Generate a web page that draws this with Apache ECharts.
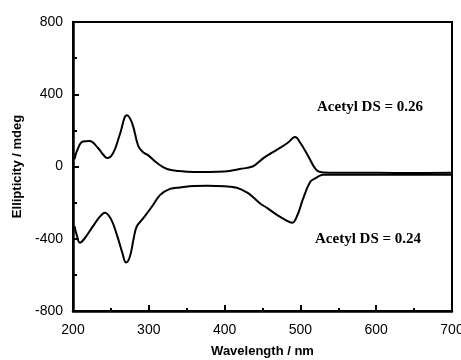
<!DOCTYPE html>
<html><head><meta charset="utf-8">
<script src="https://cdn.jsdelivr.net/npm/echarts@6/dist/echarts.min.js"></script>
<style>html,body{margin:0;padding:0;background:#fff}#c{width:461px;height:360px}</style>
</head><body><div id="c"></div>
<script>
// Acetyl DS = 0.26 (upper curve)
var wlUpper = [202,206,213,222,233,240,245,253,262,271,278,286,292,299,311,324,340,360,380,400,420,437,445,453,462,472,483,493,500,510,521,530,550,600,650,700];
var ellUpper = [40,95,138,141,102,65,47,75,180,284,240,115,80,63,19,-14,-25,-30,-30,-28,-14,0,25,52,75,100,130,163,130,60,-19,-33,-35,-35,-36,-35];
// Acetyl DS = 0.24 (lower curve)
var wlLower = [202,205,209,215,226,236,242,250,258,265,270,275,280,284,292,304,315,328,341,360,377,400,416,430,437,447,456,469,480,489,496,503,513,520,530,550,600,650,700];
var ellLower = [-330,-380,-422,-400,-333,-275,-256,-290,-380,-477,-532,-500,-400,-333,-290,-223,-157,-124,-116,-108,-107,-110,-118,-145,-168,-205,-229,-268,-295,-312,-270,-185,-85,-65,-45,-45,-46,-46,-46];
var seriesNames = ['Acetyl DS = 0.26','Acetyl DS = 0.24'];
var xTicks = [200,300,400,500,600,700];
var yTicks = [-800,-400,0,400,800];

function pairs(xs, ys){ return xs.map(function(x,i){return [x, ys[i]];}); }

var chart = echarts.init(document.getElementById('c'), null, {renderer:'canvas'});
var tickFont = {fontFamily:'Liberation Sans, Arial, sans-serif', fontSize:14, color:'#000'};
chart.setOption({
  animation:false,
  backgroundColor:'#fff',
  grid:{left:73, right:9, top:22, bottom:49, show:true, borderColor:'#000', borderWidth:2, containLabel:false, outerBoundsMode:'none'},
  xAxis:{type:'value', min:xTicks[0], max:xTicks[xTicks.length-1], interval:100,
    name:'Wavelength / nm', nameLocation:'middle', nameGap:34,
    nameTextStyle:{fontFamily:'Liberation Sans, Arial, sans-serif', fontSize:13, fontWeight:'bold', color:'#000'},
    axisLine:{onZero:false, lineStyle:{color:'#000', width:2.5}},
    axisTick:{inside:true, length:6, lineStyle:{color:'#000', width:2}},
    minorTick:{show:true, splitNumber:2, length:3, lineStyle:{color:'#000', width:2}},
    splitLine:{show:false},
    axisLabel:Object.assign({margin:12}, tickFont)
  },
  yAxis:{type:'value', min:yTicks[0], max:yTicks[yTicks.length-1], interval:400,
    name:'Ellipticity / mdeg', nameLocation:'middle', nameGap:48,
    nameTextStyle:{fontFamily:'Liberation Sans, Arial, sans-serif', fontSize:13, fontWeight:'bold', color:'#000'},
    axisLine:{onZero:false, lineStyle:{color:'#000', width:2.5}},
    axisTick:{inside:true, length:6, lineStyle:{color:'#000', width:2}},
    minorTick:{show:true, splitNumber:2, length:4, lineStyle:{color:'#000', width:2}},
    splitLine:{show:false},
    axisLabel:Object.assign({margin:10}, tickFont)
  },
  series:[
    {name:seriesNames[0], type:'line', data:pairs(wlUpper, ellUpper), smooth:0.4, showSymbol:false,
     lineStyle:{color:'#000', width:2}},
    {name:seriesNames[1], type:'line', data:pairs(wlLower, ellLower), smooth:0.4, showSymbol:false,
     lineStyle:{color:'#000', width:2}}
  ],
  graphic:[
    {type:'text', left:317, top:100, style:{text:seriesNames[0], font:'bold 15px "Liberation Serif", "Times New Roman", serif', fill:'#000'}},
    {type:'text', left:315, top:232, style:{text:seriesNames[1], font:'bold 15px "Liberation Serif", "Times New Roman", serif', fill:'#000'}}
  ]
});
</script></body></html>
